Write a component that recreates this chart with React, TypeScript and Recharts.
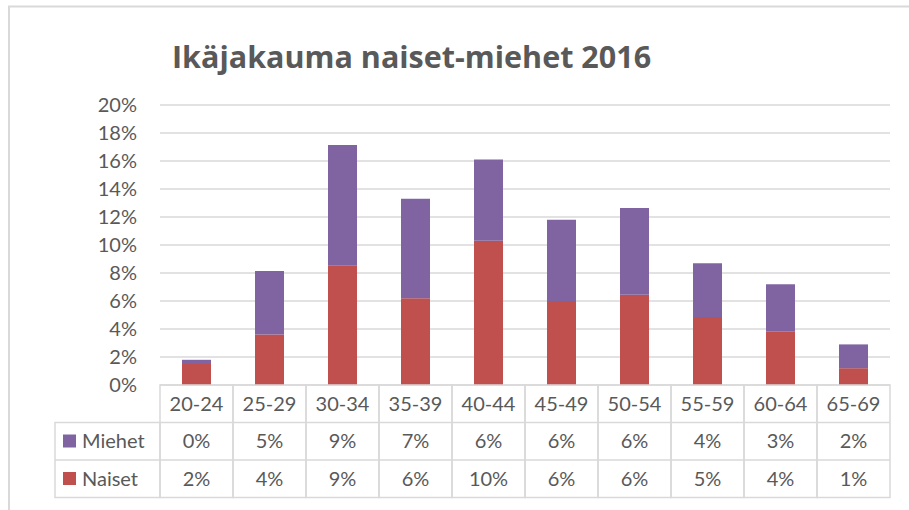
import { BarChart, Bar, XAxis, YAxis, CartesianGrid } from 'recharts'

const ageGroups = ['20-24', '25-29', '30-34', '35-39', '40-44', '45-49', '50-54', '55-59', '60-64', '65-69']
const naiset = [1.5, 3.6, 8.55, 6.2, 10.3, 6.0, 6.45, 4.85, 3.8, 1.2]
const miehet = [0.3, 4.55, 8.6, 7.1, 5.8, 5.8, 6.2, 3.85, 3.4, 1.7]
const yTicks = [0, 2, 4, 6, 8, 10, 12, 14, 16, 18, 20]

const data = ageGroups.map((group, i) => ({ group, naiset: naiset[i], miehet: miehet[i] }))

const FONT = 'Lato, "Open Sans", sans-serif'
const TEXT = '#595959'
const LINE = '#d9d9d9'
const PURPLE = '#8064a2'
const RED = '#c0504d'

const pct = (v: number) => `${Math.round(v)}%`

// x axis tick draws one column of the data table under the plot
function TableTick(props: any) {
  const { x, y, payload, index } = props
  const half = 36.5
  const rowH = 37.5
  const rows = [payload.value, pct(miehet[index]), pct(naiset[index])]
  return (
    <g>
      <rect x={x - half} y={y} width={half * 2} height={rowH * 3} fill="none" stroke={LINE} strokeWidth={1.5} />
      <line x1={x - half} x2={x + half} y1={y + rowH} y2={y + rowH} stroke={LINE} strokeWidth={1.5} />
      <line x1={x - half} x2={x + half} y1={y + rowH * 2} y2={y + rowH * 2} stroke={LINE} strokeWidth={1.5} />
      {rows.map((r, i) => (
        <text key={i} x={x} y={y + rowH * i + rowH / 2 + 7} textAnchor="middle" fontSize={20} fontFamily={FONT} fill={TEXT}>
          {r}
        </text>
      ))}
      {index === 0 && (
        <g>
          <rect x={x - half - 105} y={y + rowH} width={105} height={rowH * 2} fill="none" stroke={LINE} strokeWidth={1.5} />
          <line x1={x - half - 105} x2={x - half} y1={y + rowH * 2} y2={y + rowH * 2} stroke={LINE} strokeWidth={1.5} />
          <rect x={x - half - 97} y={y + rowH + 12} width={13} height={13} fill={PURPLE} />
          <text x={x - half - 78} y={y + rowH * 1.5 + 7} fontSize={20} fontFamily={FONT} fill={TEXT}>Miehet</text>
          <rect x={x - half - 97} y={y + rowH * 2 + 12} width={13} height={13} fill={RED} />
          <text x={x - half - 78} y={y + rowH * 2.5 + 7} fontSize={20} fontFamily={FONT} fill={TEXT}>Naiset</text>
        </g>
      )}
    </g>
  )
}

export default function App() {
  return (
    <div style={{ position: 'absolute', left: 0, top: 0, width: 909, height: 510, background: '#fff' }}>
      <svg width={909} height={510} style={{ position: 'absolute', left: 0, top: 0 }}>
        <polyline points="9,510 9,6.5 909,6.5" fill="none" stroke={LINE} strokeWidth={2} />
        <text x={172} y={68} fontSize={30.5} fontWeight="bold" fontFamily='"Open Sans", sans-serif' fill={TEXT}>
          Ikäjakauma naiset-miehet 2016
        </text>
      </svg>
      <div style={{ position: 'absolute', left: 0, top: 0 }}>
        <BarChart width={909} height={510} data={data} margin={{ top: 105, right: 19, bottom: 13, left: 100 }}>
          <CartesianGrid vertical={false} stroke={LINE} strokeWidth={1.5} />
          <YAxis
            width={60}
            domain={[0, 20]}
            ticks={yTicks}
            tickFormatter={(v) => `${v}%`}
            axisLine={false}
            tickLine={false}
            tickSize={0}
            tickMargin={23}
            tick={{ fontSize: 20, fontFamily: FONT, fill: TEXT }}
          />
          <XAxis
            dataKey="group"
            height={112}
            interval={0}
            axisLine={false}
            tickLine={false}
            tickSize={0}
            tickMargin={0}
            tick={<TableTick />}
          />
          <Bar dataKey="naiset" stackId="a" fill={RED} barSize={29} isAnimationActive={false} />
          <Bar dataKey="miehet" stackId="a" fill={PURPLE} barSize={29} isAnimationActive={false} />
        </BarChart>
      </div>
    </div>
  )
}
